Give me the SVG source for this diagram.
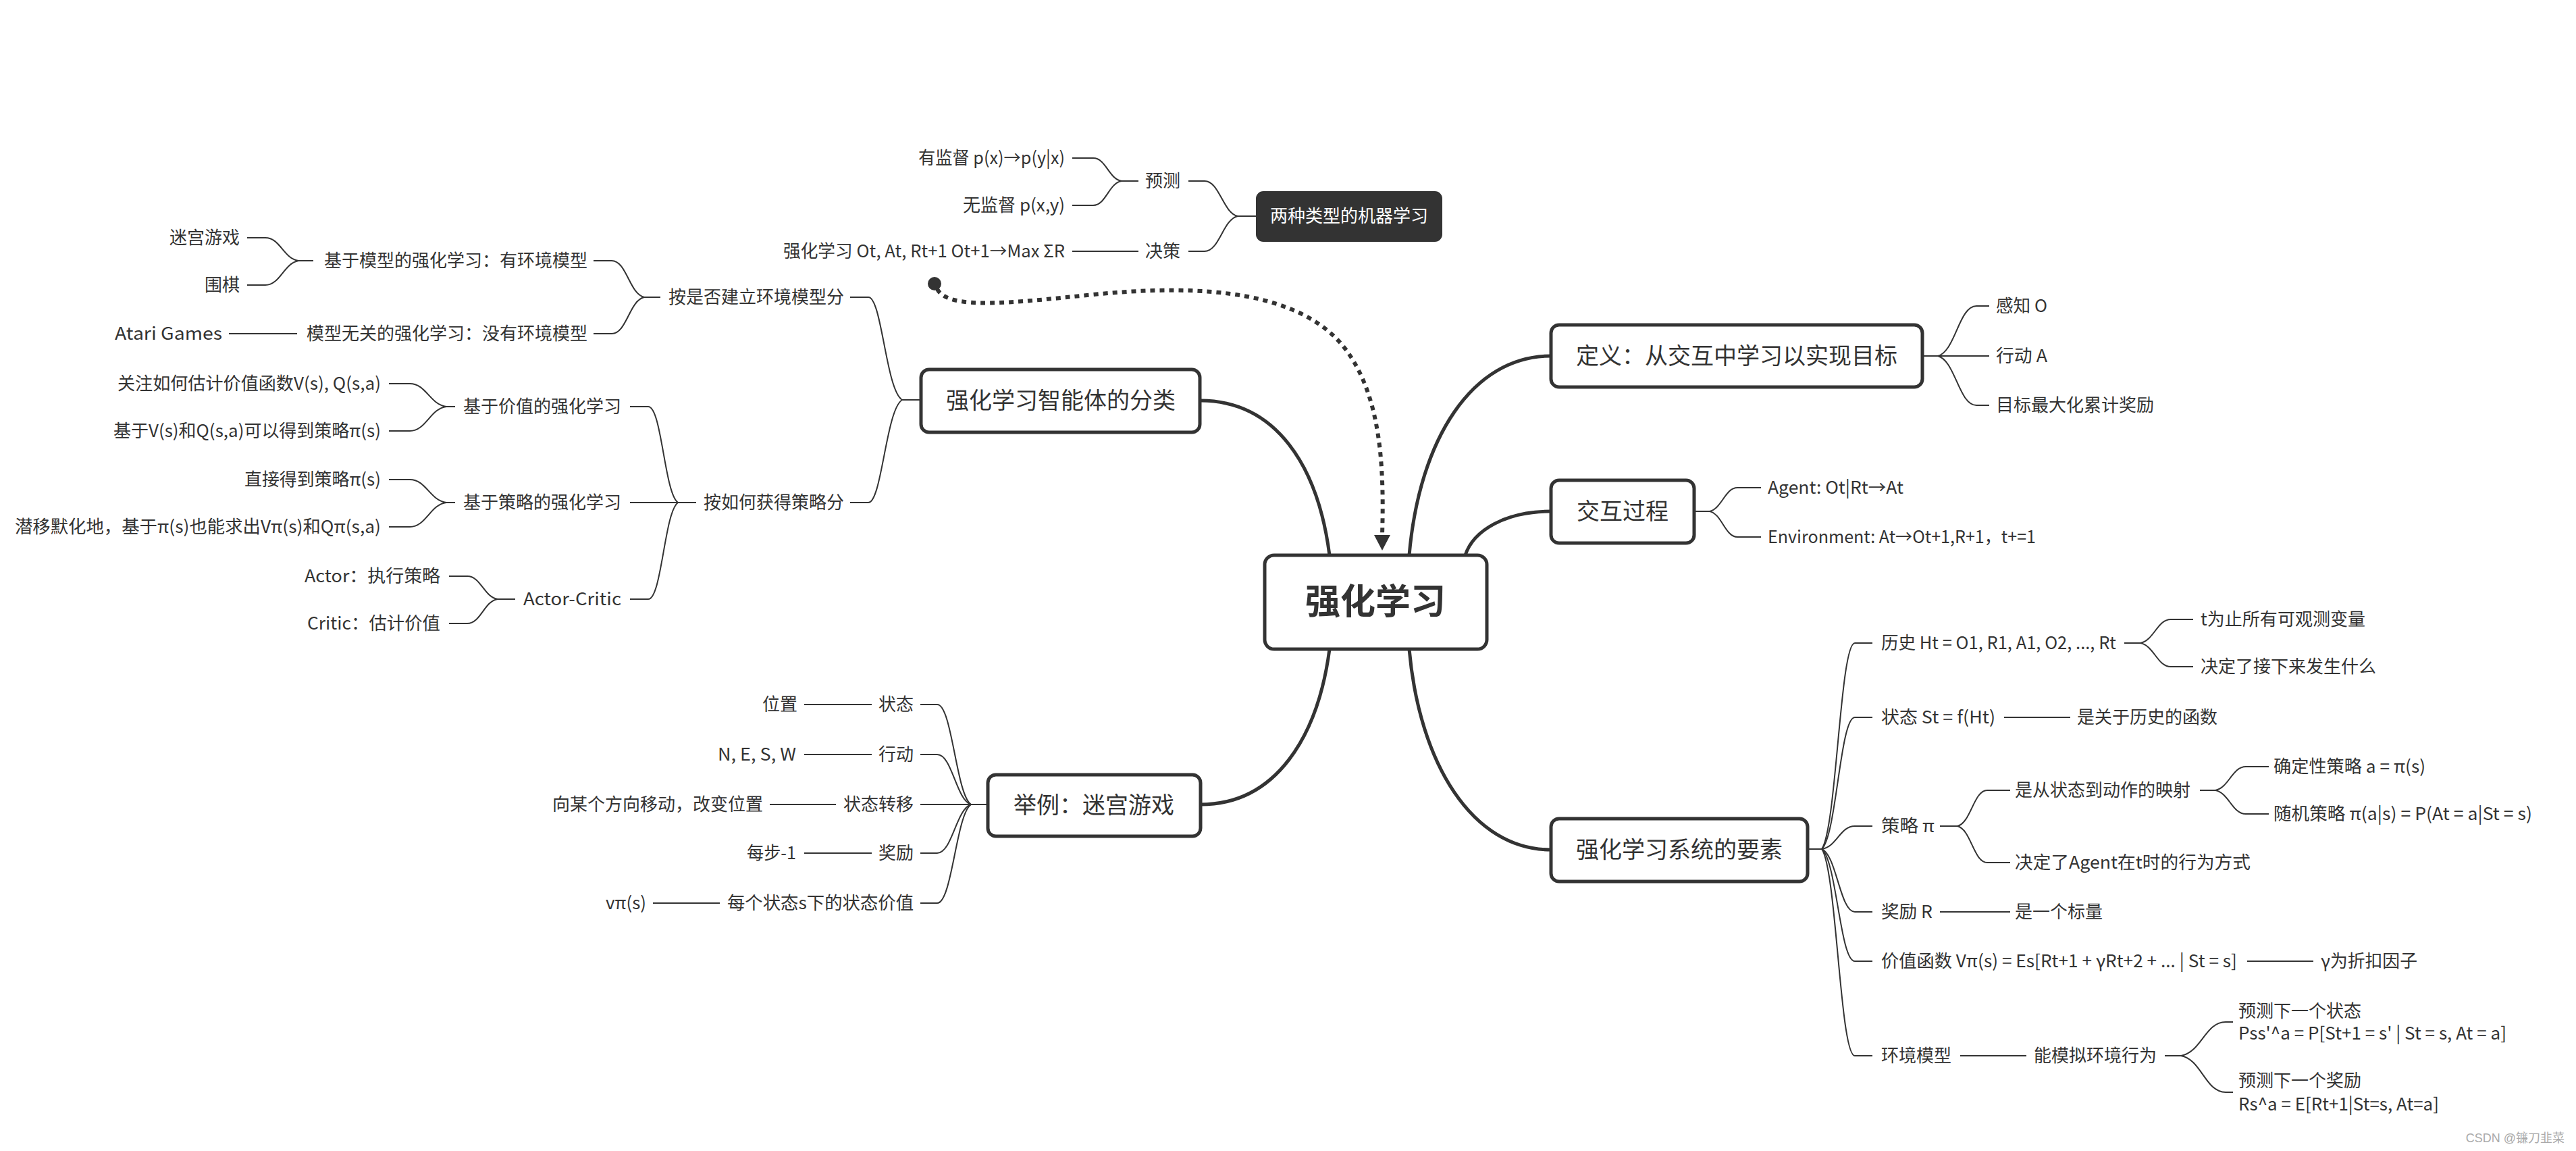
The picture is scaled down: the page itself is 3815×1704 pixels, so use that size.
<svg xmlns="http://www.w3.org/2000/svg" width="3815" height="1704" viewBox="0 0 3815 1704">
<defs>
<style>
text{font-family:"Noto Sans CJK SC","Noto Sans",sans-serif;fill:#333;font-size:26px}
.e{text-anchor:end}
.m{font-size:34px;text-anchor:middle}
.c{font-size:52px;font-weight:bold;text-anchor:middle}
.w{fill:#fff;text-anchor:middle}
.box{fill:#fff;stroke:#333;stroke-width:5}
.dark{fill:#333;stroke:#333;stroke-width:2}
.l{fill:none;stroke:#333;stroke-width:2}
.b{fill:none;stroke:#333;stroke-width:5;stroke-linecap:round}
.rel{fill:none;stroke:#333;stroke-width:6;stroke-dasharray:7 7}
.wm{font-family:"Liberation Sans","Noto Sans CJK SC",sans-serif;font-size:18px;fill:#aaa;text-anchor:end}
</style>
<marker id="arr" viewBox="0 0 10 10" refX="9" refY="5" markerWidth="4" markerHeight="4" orient="auto" markerUnits="strokeWidth">
<path d="M0 0 L10 5 L0 10 z" fill="#333"/>
</marker>
</defs>
<rect width="3815" height="1704" fill="#fff"/>

<g id="connectors">
<!-- main branches -->
<path class="b" d="M1777 593 C1890 593 1952 690 1969 822"/>
<path class="b" d="M1778 1191 C1890 1191 1952 1090 1969 961"/>
<path class="b" d="M2087 822 C2102 650 2180 527 2297 527"/>
<path class="b" d="M2170 822 C2182 785 2230 757 2297 757"/>
<path class="b" d="M2087 961 C2102 1130 2180 1258 2297 1258"/>
<!-- floating topic -->
<path class="l" d="M1861 320 H1833"/>
<path class="l" d="M1760 268 H1784 C1806 268 1811 315 1833 320"/>
<path class="l" d="M1760 372 H1784 C1806 372 1811 325 1833 320"/>
<path class="l" d="M1686 268 H1661"/>
<path class="l" d="M1588 234 H1619 C1638 234 1642 265 1661 268"/>
<path class="l" d="M1588 304 H1619 C1638 304 1642 271 1661 268"/>
<path class="l" d="M1588 372 H1686"/>
<!-- classification -->
<path class="l" d="M1364 592 H1336"/>
<path class="l" d="M1259 440 H1286 C1306 440 1312 577 1336 592"/>
<path class="l" d="M1259 744 H1286 C1306 744 1312 607 1336 592"/>
<path class="l" d="M954 440 H978"/>
<path class="l" d="M879 386 H906 C928 386 932 435 954 440"/>
<path class="l" d="M879 494 H906 C928 494 932 445 954 440"/>
<path class="l" d="M442 386 H464"/>
<path class="l" d="M366 352 H393 C415 352 420 383 442 386"/>
<path class="l" d="M366 422 H393 C415 422 420 390 442 386"/>
<path class="l" d="M339 494 H440"/>
<path class="l" d="M1004 744 H1031"/>
<path class="l" d="M933 602 H960 C980 602 984 730 1004 744"/>
<path class="l" d="M933 744 H1004"/>
<path class="l" d="M933 887 H960 C980 887 984 758 1004 744"/>
<path class="l" d="M661 602 H674"/>
<path class="l" d="M576 568 H607 C631 568 637 599 661 602"/>
<path class="l" d="M576 638 H607 C631 638 637 605 661 602"/>
<path class="l" d="M661 744 H674"/>
<path class="l" d="M576 710 H607 C631 710 637 741 661 744"/>
<path class="l" d="M576 780 H607 C631 780 637 747 661 744"/>
<path class="l" d="M737 887 H763"/>
<path class="l" d="M665 853 H692 C712 853 717 884 737 887"/>
<path class="l" d="M665 923 H692 C712 923 717 890 737 887"/>
<!-- maze example -->
<path class="l" d="M1463 1191 H1438"/>
<path class="l" d="M1363 1043 H1388 C1410 1043 1416 1176 1438 1191"/>
<path class="l" d="M1363 1117 H1388 C1410 1117 1416 1184 1438 1191"/>
<path class="l" d="M1363 1191 H1438"/>
<path class="l" d="M1363 1263 H1388 C1410 1263 1416 1198 1438 1191"/>
<path class="l" d="M1363 1337 H1388 C1410 1337 1416 1206 1438 1191"/>
<path class="l" d="M1191 1043 H1291"/>
<path class="l" d="M1191 1117 H1291"/>
<path class="l" d="M1140 1191 H1238"/>
<path class="l" d="M1191 1263 H1291"/>
<path class="l" d="M967 1337 H1066"/>
<!-- definition -->
<path class="l" d="M2847 527 H2870"/>
<path class="l" d="M2870 527 C2896 520 2901 453 2927 453 H2946"/>
<path class="l" d="M2870 527 H2946"/>
<path class="l" d="M2870 527 C2896 534 2901 600 2927 600 H2946"/>
<!-- interaction -->
<path class="l" d="M2509 757 H2532"/>
<path class="l" d="M2532 757 C2550 753 2555 722 2573 722 H2608"/>
<path class="l" d="M2532 757 C2550 761 2555 795 2573 795 H2608"/>
<!-- elements -->
<path class="l" d="M2677 1257 H2698"/>
<path class="l" d="M2698 1257 C2720 1226 2725 952 2747 952 H2773"/>
<path class="l" d="M2698 1257 C2720 1237 2725 1062 2747 1062 H2773"/>
<path class="l" d="M2698 1257 C2720 1254 2725 1223 2747 1223 H2773"/>
<path class="l" d="M2698 1257 C2720 1266 2725 1350 2747 1350 H2773"/>
<path class="l" d="M2698 1257 C2720 1274 2725 1423 2747 1423 H2773"/>
<path class="l" d="M2698 1257 C2720 1288 2725 1563 2747 1563 H2773"/>
<path class="l" d="M3146 952 H3170 C3190 948 3195 917 3215 917 H3248"/>
<path class="l" d="M3170 952 C3190 956 3195 987 3215 987 H3248"/>
<path class="l" d="M2968 1062 H3066"/>
<path class="l" d="M2873 1223 H2899 C2919 1218 2923 1170 2943 1170 H2977"/>
<path class="l" d="M2899 1223 C2919 1228 2923 1277 2943 1277 H2977"/>
<path class="l" d="M3258 1170 H3281 C3301 1166 3306 1135 3326 1135 H3360"/>
<path class="l" d="M3281 1170 C3301 1174 3306 1205 3326 1205 H3360"/>
<path class="l" d="M2873 1350 H2977"/>
<path class="l" d="M3328 1423 H3426"/>
<path class="l" d="M2903 1563 H3001"/>
<path class="l" d="M3206 1563 H3230 C3260 1558 3266 1513 3296 1513 H3307"/>
<path class="l" d="M3230 1563 C3260 1568 3266 1617 3296 1617 H3307"/>
<!-- relationship -->
<circle cx="1384" cy="420" r="10" fill="#333"/>
<path class="rel" d="M1388 428 C1405 460 1500 448 1620 436 C1780 420 1930 430 1995 520 C2045 590 2050 690 2047 792"/>
<path d="M2035 792 L2059 792 L2047 815 z" fill="#333"/>
</g>

<g id="central">
<rect class="box" x="1873" y="822" width="329" height="139" rx="14"/>
<text class="c" x="2037" y="909">强化学习</text>
</g>

<g id="ml-types">
<rect class="dark" x="1861" y="284" width="274" height="73" rx="10"/>
<text class="w" x="1998" y="329">两种类型的机器学习</text>
<text x="1696" y="277">预测</text>
<text x="1696" y="381">决策</text>
<text class="e" x="1577" y="243" textLength="217" lengthAdjust="spacingAndGlyphs">有监督 p(x)→p(y|x)</text>
<text class="e" x="1577" y="313" textLength="151" lengthAdjust="spacingAndGlyphs">无监督 p(x,y)</text>
<text class="e" x="1577" y="381" textLength="417" lengthAdjust="spacingAndGlyphs">强化学习 Ot, At, Rt+1 Ot+1→Max ΣR</text>
</g>

<g id="classification">
<rect class="box" x="1364" y="547" width="413" height="93" rx="12"/>
<text class="m" x="1571" y="605">强化学习智能体的分类</text>
</g>
<g id="by-model">
<text class="e" x="1250" y="449">按是否建立环境模型分</text>
<text class="e" x="870" y="395">基于模型的强化学习：有环境模型</text>
<text class="e" x="870" y="503">模型无关的强化学习：没有环境模型</text>
<text class="e" x="355" y="361">迷宫游戏</text>
<text class="e" x="355" y="431">围棋</text>
<text class="e" x="329" y="503" textLength="159" lengthAdjust="spacingAndGlyphs">Atari Games</text>
</g>
<g id="by-policy">
<text class="e" x="1250" y="753">按如何获得策略分</text>
<text class="e" x="920" y="611">基于价值的强化学习</text>
<text class="e" x="920" y="753">基于策略的强化学习</text>
<text class="e" x="920" y="896" textLength="145" lengthAdjust="spacingAndGlyphs">Actor-Critic</text>
<text class="e" x="564" y="577" textLength="390" lengthAdjust="spacingAndGlyphs">关注如何估计价值函数V(s), Q(s,a)</text>
<text class="e" x="564" y="647" textLength="396" lengthAdjust="spacingAndGlyphs">基于V(s)和Q(s,a)可以得到策略π(s)</text>
<text class="e" x="564" y="719" textLength="202" lengthAdjust="spacingAndGlyphs">直接得到策略π(s)</text>
<text class="e" x="564" y="789" textLength="542" lengthAdjust="spacingAndGlyphs">潜移默化地，基于π(s)也能求出Vπ(s)和Qπ(s,a)</text>
<text class="e" x="652" y="862" textLength="201" lengthAdjust="spacingAndGlyphs">Actor：执行策略</text>
<text class="e" x="652" y="932" textLength="197" lengthAdjust="spacingAndGlyphs">Critic：估计价值</text>
</g>

<g id="maze">
<rect class="box" x="1463" y="1147" width="315" height="91" rx="12"/>
<text class="m" x="1620" y="1204">举例：迷宫游戏</text>
<text class="e" x="1353" y="1052">状态</text>
<text class="e" x="1353" y="1126">行动</text>
<text class="e" x="1353" y="1200">状态转移</text>
<text class="e" x="1353" y="1272">奖励</text>
<text class="e" x="1353" y="1346" textLength="276" lengthAdjust="spacingAndGlyphs">每个状态s下的状态价值</text>
<text class="e" x="1181" y="1052">位置</text>
<text class="e" x="1179" y="1126" textLength="116" lengthAdjust="spacingAndGlyphs">N, E, S, W</text>
<text class="e" x="1130" y="1200">向某个方向移动，改变位置</text>
<text class="e" x="1179" y="1272" textLength="73" lengthAdjust="spacingAndGlyphs">每步-1</text>
<text class="e" x="957" y="1346" textLength="60" lengthAdjust="spacingAndGlyphs">vπ(s)</text>
</g>

<g id="definition">
<rect class="box" x="2297" y="481" width="550" height="92" rx="12"/>
<text class="m" x="2572" y="539">定义：从交互中学习以实现目标</text>
<text x="2956" y="462" textLength="76" lengthAdjust="spacingAndGlyphs">感知 O</text>
<text x="2956" y="536" textLength="76" lengthAdjust="spacingAndGlyphs">行动 A</text>
<text x="2956" y="609">目标最大化累计奖励</text>
</g>

<g id="interaction">
<rect class="box" x="2297" y="711" width="212" height="93" rx="12"/>
<text class="m" x="2403" y="769">交互过程</text>
<text x="2618" y="731" textLength="201" lengthAdjust="spacingAndGlyphs">Agent: Ot|Rt→At</text>
<text x="2618" y="804" textLength="397" lengthAdjust="spacingAndGlyphs">Environment: At→Ot+1,R+1，t+=1</text>
</g>

<g id="elements">
<rect class="box" x="2297" y="1212" width="380" height="93" rx="12"/>
<text class="m" x="2487" y="1270">强化学习系统的要素</text>
<text x="2786" y="961" textLength="348" lengthAdjust="spacingAndGlyphs">历史 Ht = O1, R1, A1, O2, ..., Rt</text>
<text x="3259" y="926" textLength="244" lengthAdjust="spacingAndGlyphs">t为止所有可观测变量</text>
<text x="3259" y="996">决定了接下来发生什么</text>
<text x="2786" y="1071" textLength="169" lengthAdjust="spacingAndGlyphs">状态 St = f(Ht)</text>
<text x="3076" y="1071">是关于历史的函数</text>
<text x="2786" y="1232" textLength="79" lengthAdjust="spacingAndGlyphs">策略 π</text>
<text x="2984" y="1179">是从状态到动作的映射</text>
<text x="3367" y="1144" textLength="225" lengthAdjust="spacingAndGlyphs">确定性策略 a = π(s)</text>
<text x="3367" y="1214" textLength="383" lengthAdjust="spacingAndGlyphs">随机策略 π(a|s) = P(At = a|St = s)</text>
<text x="2984" y="1286" textLength="349" lengthAdjust="spacingAndGlyphs">决定了Agent在t时的行为方式</text>
<text x="2786" y="1359" textLength="76" lengthAdjust="spacingAndGlyphs">奖励 R</text>
<text x="2984" y="1359">是一个标量</text>
<text x="2786" y="1432" textLength="527" lengthAdjust="spacingAndGlyphs">价值函数 Vπ(s) = Es[Rt+1 + γRt+2 + ... | St = s]</text>
<text x="3437" y="1432" textLength="143" lengthAdjust="spacingAndGlyphs">γ为折扣因子</text>
<text x="2786" y="1572">环境模型</text>
<text x="3012" y="1572">能模拟环境行为</text>
<text x="3315" y="1506">预测下一个状态</text>
<text x="3315" y="1539" textLength="397" lengthAdjust="spacingAndGlyphs">Pss'^a = P[St+1 = s' | St = s, At = a]</text>
<text x="3315" y="1609">预测下一个奖励</text>
<text x="3315" y="1644" textLength="297" lengthAdjust="spacingAndGlyphs">Rs^a = E[Rt+1|St=s, At=a]</text>
</g>

<text class="wm" x="3798" y="1691">CSDN @镰刀韭菜</text>
</svg>
